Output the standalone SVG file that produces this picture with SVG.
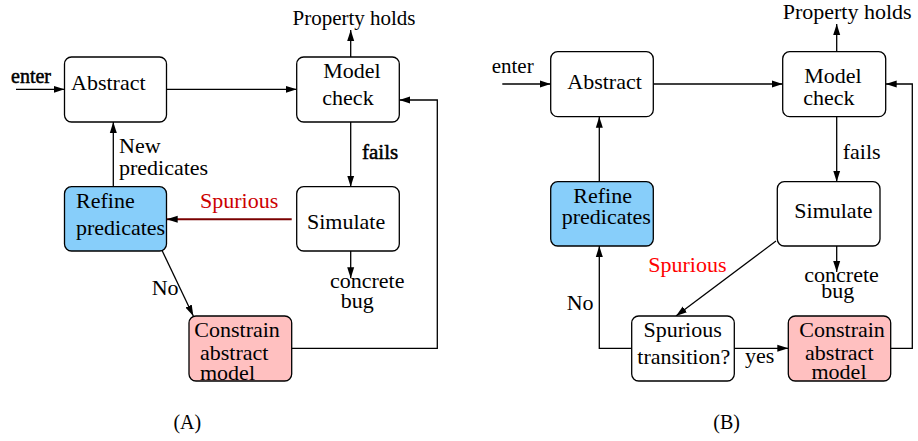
<svg xmlns="http://www.w3.org/2000/svg" width="918" height="441" viewBox="0 0 918 441">
<style>
text{font-family:"Liberation Serif","Times New Roman",serif;font-size:22px;fill:#000}
.box{fill:#fff;stroke:#000;stroke-width:1.3}
.blue{fill:#87cefa}
.pink{fill:#ffc0c0}
.ln{fill:none;stroke:#000;stroke-width:1.3}
.m{text-anchor:middle}
.heavy{stroke:#000;stroke-width:0.5}
</style>
<defs>
<marker id="ah" markerUnits="userSpaceOnUse" markerWidth="12" markerHeight="8" refX="11" refY="4" orient="auto">
<path d="M0,0.5 L11,4 L0,7.5 Z" fill="#000"/>
</marker>
</defs>

<g id="connectors">
<!-- Panel A -->
<line class="ln" x1="16" y1="89.3" x2="64.5" y2="89.3" marker-end="url(#ah)"/>
<line class="ln" x1="166.7" y1="89.3" x2="296.7" y2="89.3" marker-end="url(#ah)"/>
<line class="ln" x1="350.7" y1="57" x2="350.7" y2="30" marker-end="url(#ah)"/>
<line class="ln" x1="350.7" y1="122" x2="350.7" y2="186.7" marker-end="url(#ah)"/>
<line class="ln" x1="113.3" y1="186.7" x2="113.3" y2="122" marker-end="url(#ah)"/>
<line x1="291.7" y1="219.3" x2="166.7" y2="219.3" stroke="#7a0000" stroke-width="2" marker-end="url(#ah)"/>
<line class="ln" x1="350.7" y1="251" x2="350.7" y2="278.3" marker-end="url(#ah)"/>
<line class="ln" x1="162.3" y1="251" x2="193.3" y2="316" marker-end="url(#ah)"/>
<polyline class="ln" points="291.7,348.3 437.3,348.3 437.3,100 399.3,100" marker-end="url(#ah)"/>
<!-- Panel B -->
<line class="ln" x1="502.3" y1="84" x2="550.7" y2="84" marker-end="url(#ah)"/>
<line class="ln" x1="653.3" y1="84" x2="782.7" y2="84" marker-end="url(#ah)"/>
<line class="ln" x1="836.7" y1="51.7" x2="836.7" y2="24" marker-end="url(#ah)"/>
<line class="ln" x1="836.7" y1="116.7" x2="836.7" y2="181.7" marker-end="url(#ah)"/>
<line class="ln" x1="599.3" y1="181.7" x2="599.3" y2="116.7" marker-end="url(#ah)"/>
<line class="ln" x1="836.7" y1="246" x2="836.7" y2="272" marker-end="url(#ah)"/>
<line class="ln" x1="776" y1="241" x2="676" y2="316" marker-end="url(#ah)"/>
<polyline class="ln" points="631.7,348.3 599.3,348.3 599.3,246" marker-end="url(#ah)"/>
<line class="ln" x1="734.3" y1="348.3" x2="788.3" y2="348.3" marker-end="url(#ah)"/>
<polyline class="ln" points="890.7,348.3 912.3,348.3 912.3,84 885.7,84" marker-end="url(#ah)"/>
</g>

<!-- Panel A nodes -->
<g id="a-enter"><text class="heavy" x="11" y="83" style="font-size:20px">enter</text></g>
<g id="a-abstract"><rect class="box" x="64.5" y="57" width="102" height="65" rx="7"/><text x="71" y="90">Abstract</text></g>
<g id="a-modelcheck"><rect class="box" x="296.7" y="57" width="102.6" height="65" rx="7"/><text class="m" x="352" y="78">Model</text><text class="m" x="348" y="105">check</text></g>
<g id="a-property"><text class="m" x="354" y="25" style="font-size:21px">Property holds</text></g>
<g id="a-fails"><text class="heavy" x="362" y="159" style="font-size:21px">fails</text></g>
<g id="a-newpred"><text x="119" y="153">New</text><text x="119" y="175">predicates</text></g>
<g id="a-refine"><rect class="box blue" x="64.5" y="186.7" width="102" height="64.3" rx="7"/><text x="76" y="207.7">Refine</text><text x="76" y="235">predicates</text></g>
<g id="a-spurious"><text x="200" y="207.7" style="fill:#cc0000">Spurious</text></g>
<g id="a-simulate"><rect class="box" x="296.7" y="186.7" width="102.6" height="64.3" rx="7"/><text x="307" y="229.3">Simulate</text></g>
<g id="a-bug"><text x="330" y="287.7">concrete</text><text x="340.7" y="308">bug</text></g>
<g id="a-no"><text x="151.7" y="295">No</text></g>
<g id="a-constrain"><rect class="box pink" x="189" y="316" width="102.7" height="65" rx="7"/><text x="194.3" y="336.7">Constrain</text><text x="200" y="360">abstract</text><text x="200" y="380">model</text></g>
<g id="a-label"><text class="m" x="187.3" y="429.3" style="font-size:20px">(A)</text></g>

<!-- Panel B nodes -->
<g id="b-enter"><text x="491.7" y="72.7" style="font-size:21px">enter</text></g>
<g id="b-abstract"><rect class="box" x="550.7" y="51.7" width="102.6" height="65" rx="7"/><text x="567.3" y="89">Abstract</text></g>
<g id="b-modelcheck"><rect class="box" x="782.7" y="51.7" width="103" height="65" rx="7"/><text x="804.3" y="83.3">Model</text><text x="803.3" y="105">check</text></g>
<g id="b-property"><text x="782.7" y="19">Property holds</text></g>
<g id="b-fails"><text x="842.7" y="159.3">fails</text></g>
<g id="b-refine"><rect class="box blue" x="550.7" y="181.7" width="102.6" height="64.3" rx="7"/><text class="m" x="602.7" y="202.7">Refine</text><text x="561.7" y="224.3">predicates</text></g>
<g id="b-simulate"><rect class="box" x="777.3" y="181.7" width="102.7" height="64.3" rx="7"/><text x="794.3" y="218.3">Simulate</text></g>
<g id="b-bug"><text x="804.3" y="281.7">concrete</text><text class="m" x="837.7" y="298.3">bug</text></g>
<g id="b-spurious"><text x="648.3" y="271.7" style="fill:#ff0000">Spurious</text></g>
<g id="b-no"><text x="566.7" y="310">No</text></g>
<g id="b-sptrans"><rect class="box" x="631.7" y="316" width="102.6" height="65" rx="7"/><text class="m" x="682.7" y="336.7">Spurious</text><text x="637.3" y="364.3">transition?</text></g>
<g id="b-yes"><text x="745" y="363.3">yes</text></g>
<g id="b-constrain"><rect class="box pink" x="788.3" y="316" width="102.4" height="65" rx="7"/><text x="799.3" y="336.7">Constrain</text><text class="m" x="839.3" y="360">abstract</text><text class="m" x="839" y="379.3">model</text></g>
<g id="b-label"><text class="m" x="726.7" y="429.3" style="font-size:20px">(B)</text></g>
</svg>
